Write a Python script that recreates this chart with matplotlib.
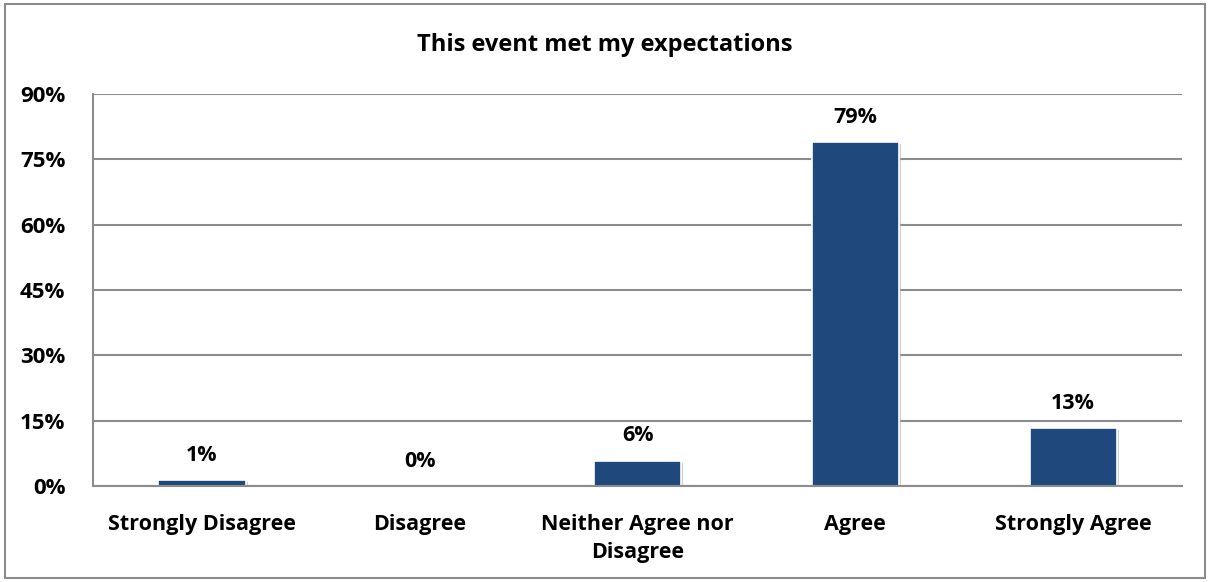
import matplotlib
matplotlib.use('Agg')
from matplotlib import pyplot as plt
from matplotlib import patheffects as pe
from matplotlib.patches import Rectangle

plt.rcParams['font.family'] = ['Open Sans', 'DejaVu Sans']
plt.rcParams['font.weight'] = 'bold'

categories = ['Strongly Disagree', 'Disagree', 'Neither Agree nor\nDisagree', 'Agree', 'Strongly Agree']
values = [1.4, 0, 5.8, 79, 13.3]
labels = ['1%', '0%', '6%', '79%', '13%']
yticks = [0, 15, 30, 45, 60, 75, 90]

fig = plt.figure(figsize=(12.1, 5.82), dpi=100)
ax = fig.add_axes([0.0769, 0.165, 0.9, 0.6735])

# outer chart border
fig.patches.append(Rectangle((0.004, 0.007), 0.992, 0.986, transform=fig.transFigure,
                             fill=False, edgecolor='#8c8c8c', linewidth=1.5))

x = range(len(categories))
bars = ax.bar(x, values, width=0.4, color='#1F497D', edgecolor='white', linewidth=1.2,
              zorder=3)
for b in bars:
    b.set_path_effects([pe.SimplePatchShadow(offset=(1.5, -1.5), shadow_rgbFace='#b0b0b0', alpha=0.6),
                        pe.Normal()])

for i, v in enumerate(values):
    ax.text(i, v + 3.3, labels[i], ha='center', va='bottom', fontsize=15.5, fontweight='bold')

ax.set_xlim(-0.5, 4.5)
ax.set_ylim(0, 90)
ax.set_yticks(yticks)
ax.set_yticklabels([f'{t}%' for t in yticks], fontsize=16, fontweight='bold')
ax.set_xticks(list(x))
ax.set_xticklabels(categories, fontsize=15.5, fontweight='bold', linespacing=1.45)
ax.tick_params(axis='y', length=0, pad=20)
ax.tick_params(axis='x', length=0, pad=20)

ax.grid(axis='y', color='#8c8c8c', linewidth=1.5, zorder=0)
for s in ['top', 'right']:
    ax.spines[s].set_visible(False)
for s in ['left', 'bottom']:
    ax.spines[s].set_color('#8c8c8c')
    ax.spines[s].set_linewidth(1.5)
    ax.spines[s].set_zorder(4)

fig.text(0.5, 0.922, 'This event met my expectations', ha='center', va='center',
         fontsize=17, fontweight='bold')

plt.savefig('out.png')
